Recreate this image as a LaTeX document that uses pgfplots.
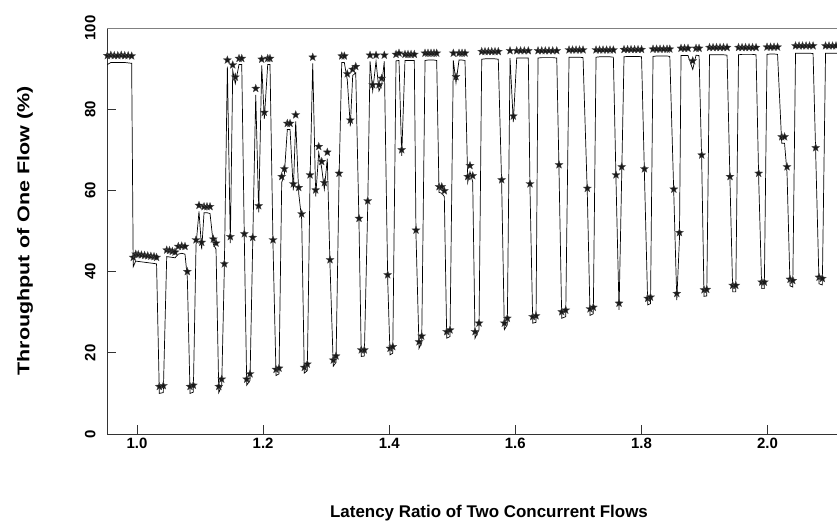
\documentclass[border=0pt]{standalone}
\usepackage{fontspec}
\setmainfont{Liberation Sans}
\usepackage{graphicx}
\usepackage{pgfplots}
\usepackage{pgfplotstable}
\pgfplotsset{compat=1.18}

% filled five-pointed star
\pgfdeclareplotmark{fstar}{%
  \pgfpathmoveto{\pgfpointpolar{90}{\pgfplotmarksize}}%
  \pgfpathlineto{\pgfpointpolar{126}{0.42*\pgfplotmarksize}}%
  \pgfpathlineto{\pgfpointpolar{162}{\pgfplotmarksize}}%
  \pgfpathlineto{\pgfpointpolar{198}{0.42*\pgfplotmarksize}}%
  \pgfpathlineto{\pgfpointpolar{234}{\pgfplotmarksize}}%
  \pgfpathlineto{\pgfpointpolar{270}{0.42*\pgfplotmarksize}}%
  \pgfpathlineto{\pgfpointpolar{306}{\pgfplotmarksize}}%
  \pgfpathlineto{\pgfpointpolar{342}{0.42*\pgfplotmarksize}}%
  \pgfpathlineto{\pgfpointpolar{18}{\pgfplotmarksize}}%
  \pgfpathlineto{\pgfpointpolar{54}{0.42*\pgfplotmarksize}}%
  \pgfpathclose
  \pgfusepathqfillstroke}

% x = latency ratio, s = stars, l = line
\pgfplotstableread{
x s l
0.953 93.2 91.0
0.9585 93.3 91.5
0.964 93.2 91.5
0.9695 93.2 91.5
0.975 93.3 91.5
0.9805 93.2 91.5
0.986 93.2 91.4
0.9915 93.1 91.3
0.9940 43.5 41.2
0.998 44.3 42.6
1.002 44.2 42.5
1.007 44.1 42.4
1.012 44.0 42.3
1.017 43.9 42.2
1.022 43.8 42.1
1.027 43.7 42.0
1.031 43.5 41.9
1.0354 11.7 10.0
1.0417 11.9 10.2
1.0471 45.3 43.7
1.0515 45.2 43.6
1.056 45.0 43.5
1.0603 44.8 43.4
1.0655 46.2 44.3
1.0709 46.3 44.5
1.0761 46.2 44.3
1.0798 40.0 38.5
1.0841 11.7 10.0
1.0893 12.0 10.3
1.0936 47.8 46.5
1.0983 56.3 54.8
1.1026 47.2 45.5
1.1063 56.0 54.5
1.111 56.0 54.5
1.1158 56.0 54.3
1.121 48.0 46.8
1.1253 47.0 45.5
1.1297 11.7 10.2
1.1343 13.5 11.8
1.1385 41.9 40.8
1.1433 92.1 90.5
1.148 48.6 47.0
1.1518 90.9 89.5
1.1559 87.9 86.3
1.1618 92.5 91.0
1.1661 92.5 91.0
1.1702 49.3 48.0
1.174 13.5 12.0
1.1792 14.8 13.2
1.1835 48.4 47.0
1.1883 85.1 83.5
1.193 56.2 54.6
1.1978 92.3 90.8
1.2019 79.2 77.6
1.2073 92.5 91.0
1.2109 92.5 91.0
1.2157 47.8 46.5
1.2205 15.9 14.4
1.2252 16.2 14.8
1.2295 63.4 62.0
1.2336 65.3 63.8
1.2384 76.5 75.0
1.2427 76.5 75.0
1.2479 61.6 60.0
1.2517 78.6 77.0
1.2565 60.7 59.2
1.2612 54.2 52.8
1.2653 16.4 15.0
1.2701 17.2 15.6
1.2744 63.8 62.3
1.2787 92.8 91.3
1.2834 60.1 58.5
1.2882 70.8 69.3
1.2929 67.1 65.5
1.2971 61.9 60.3
1.3018 69.4 67.8
1.3061 42.9 41.5
1.3113 18.2 16.7
1.3156 19.2 17.6
1.3204 64.2 62.8
1.3247 93.1 91.5
1.3288 93.1 91.5
1.3335 88.7 87.2
1.3383 77.3 75.8
1.3421 89.8 88.3
1.3469 90.5 89.0
1.3521 53.1 51.6
1.3557 20.7 19.1
1.3605 20.7 19.2
1.3659 57.4 56.0
1.3696 93.3 91.8
1.3738 86.0 84.5
1.3791 93.3 91.8
1.3838 86.0 84.5
1.3881 87.6 86.0
1.3922 93.3 91.8
1.3976 39.2 37.8
1.4013 21.1 19.5
1.4056 21.5 19.9
1.4108 93.5 91.9
1.4155 93.8 92.0
1.4198 70.0 68.5
1.425 93.5 92.0
1.4298 93.5 92.0
1.4346 93.5 92.0
1.4398 93.5 92.0
1.4425 50.2 48.8
1.4473 22.7 21.1
1.4515 24.1 22.5
1.4568 93.8 92.0
1.4615 93.8 92.1
1.4663 93.8 92.1
1.471 93.8 92.1
1.4753 93.8 92.0
1.479 60.9 59.5
1.4833 60.9 59.3
1.4874 59.9 58.5
1.4912 25.2 23.6
1.4964 25.6 24.0
1.5017 93.8 92.0
1.5059 88.0 86.5
1.5107 93.8 92.1
1.5155 93.8 92.1
1.5202 93.8 92.0
1.5245 63.4 62.0
1.5281 66.1 64.6
1.5324 63.6 62.1
1.5361 25.2 23.6
1.5424 27.3 25.7
1.5467 94.2 92.3
1.5519 94.2 92.4
1.5572 94.2 92.4
1.5626 94.2 92.4
1.5678 94.2 92.4
1.573 94.2 92.3
1.5784 62.6 61.1
1.5826 27.3 25.7
1.5873 28.5 26.9
1.5916 94.4 92.6
1.5968 78.3 76.8
1.6022 94.4 92.6
1.6083 94.4 92.6
1.6143 94.4 92.6
1.6206 94.4 92.6
1.6233 61.6 60.1
1.6276 28.9 27.3
1.6328 29.1 27.5
1.636 94.4 92.6
1.6419 94.4 92.7
1.6476 94.4 92.7
1.6534 94.4 92.7
1.6593 94.4 92.7
1.6657 94.4 92.6
1.6693 66.3 64.8
1.6736 30.1 28.5
1.6799 30.5 28.9
1.6852 94.6 92.8
1.6907 94.6 92.8
1.6963 94.6 92.8
1.7018 94.6 92.8
1.7074 94.6 92.7
1.7142 60.5 59.0
1.7185 30.8 29.2
1.7237 31.2 29.6
1.728 94.6 92.8
1.7336 94.6 92.9
1.7391 94.6 92.9
1.7447 94.6 92.9
1.7502 94.6 92.9
1.7555 94.6 92.8
1.7597 63.8 62.3
1.7645 32.2 30.6
1.7688 65.8 64.3
1.7724 94.7 92.9
1.778 94.7 93.0
1.7835 94.7 93.0
1.7891 94.7 93.0
1.7946 94.7 93.0
1.8002 94.7 92.9
1.8048 65.3 63.8
1.81 33.4 31.8
1.8144 33.7 32.1
1.8184 94.8 93.0
1.824 94.8 93.1
1.8295 94.8 93.1
1.8351 94.8 93.1
1.8406 94.8 93.1
1.845 94.8 93.0
1.8514 60.3 58.8
1.8561 34.6 33.0
1.8603 49.6 48.1
1.8628 95.0 93.2
1.8684 95.0 93.2
1.8739 95.0 93.2
1.8814 91.9 89.8
1.8866 95.0 93.3
1.8914 95.0 93.2
1.8956 68.7 67.2
1.8993 35.5 33.9
1.9036 35.6 34.0
1.908 95.2 93.4
1.9136 95.2 93.4
1.9191 95.2 93.4
1.9247 95.2 93.4
1.9302 95.2 93.4
1.9358 95.2 93.3
1.9405 63.4 61.9
1.9448 36.6 35.0
1.9496 36.6 35.0
1.954 95.2 93.4
1.9596 95.2 93.5
1.9651 95.2 93.5
1.9707 95.2 93.5
1.9762 95.2 93.5
1.9818 95.2 93.4
1.986 64.2 62.7
1.9908 37.4 35.8
1.9949 37.4 35.8
1.9992 95.3 93.5
2.0048 95.3 93.6
2.0103 95.3 93.6
2.0159 95.3 93.5
2.0225 73.2 71.6
2.027 73.2 71.6
2.0309 65.8 64.3
2.0357 38.1 36.5
2.04 37.8 36.2
2.0444 95.6 93.8
2.05 95.6 93.8
2.0555 95.6 93.8
2.0611 95.6 93.8
2.0666 95.6 93.8
2.0722 95.6 93.7
2.0764 70.5 69.0
2.0817 38.6 37.0
2.0869 38.3 36.7
2.092 95.6 93.8
2.0975 95.6 93.8
2.1031 95.6 93.8
2.1086 95.6 93.8
2.1142 95.6 93.8
}\flows

\begin{document}
\begin{tikzpicture}[x=1bp,y=1bp]
\useasboundingbox (0,0) rectangle (837,523);
\begin{axis}[
  at={(107bp,89bp)}, anchor=south west,
  width=730bp, height=406bp, scale only axis,
  xmin=0.9524, xmax=2.1102, ymin=0, ymax=100,
  axis x line*=bottom, axis y line*=left,
  axis line style={black!80, line width=0.7bp},
  xtick={1,1.2,1.4,1.6,1.8,2.0},
  xticklabels={1.0,1.2,1.4,1.6,1.8,2.0},
  ytick={0,20,40,60,80,100},
  yticklabels={0,20,40,60,80,100},
  tick align=inside,
  major tick length=9bp,
  tick style={black!80, line width=0.6bp},
  ticklabel style={font=\bfseries\fontsize{15}{15}\selectfont},
  xticklabel style={yshift=-1bp},
  yticklabel style={rotate=90, anchor=south},
  yticklabel shift=8bp,
  clip=true,
]
\draw[black!50, line width=0.7bp] (rel axis cs:0,1) -- (rel axis cs:1,1);
\addplot[black, line width=0.7bp, mark=none] table[x=x, y=l] {\flows};
\addplot[only marks, mark=fstar, mark size=4.2bp,
  mark options={fill=black!90, draw=black!70, line width=0.3bp}] table[x=x, y=s] {\flows};
\end{axis}
\node[rotate=90, font=\bfseries\fontsize{17}{17}\selectfont] at (25,292) {\scalebox{1.27}[1]{Throughput of One Flow (\%)}};
\node[font=\bfseries\fontsize{17}{17}\selectfont] at (489,10) {Latency Ratio of Two Concurrent Flows};
\end{tikzpicture}
\end{document}
